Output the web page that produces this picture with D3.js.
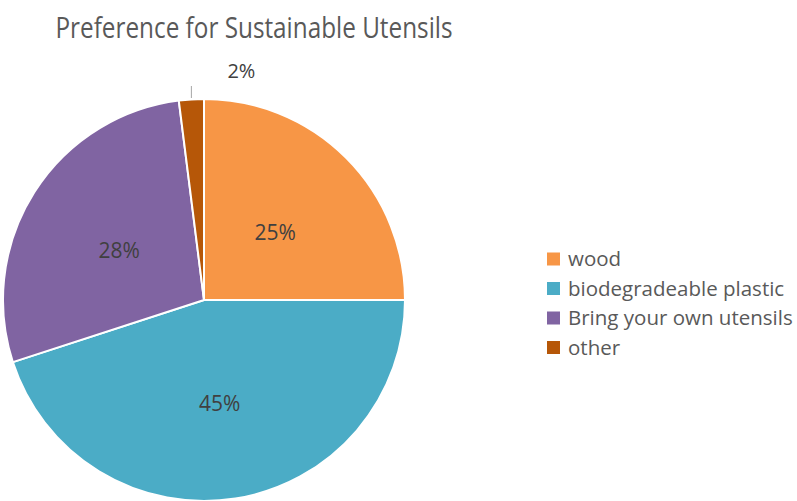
<!DOCTYPE html>
<html>
<head>
<meta charset="utf-8">
<script src="https://cdn.jsdelivr.net/npm/d3@7"></script>
<style>
  body { margin: 0; background: #fff; }
  text { font-family: "Open Sans", sans-serif; }
</style>
</head>
<body>
<div id="chart"></div>
<script>
const title = "Preference for Sustainable Utensils";
const categories = ["wood", "biodegradeable plastic", "Bring your own utensils", "other"];
const values = [25, 45, 28, 2];
const colors = ["#F79646", "#4BACC6", "#8064A2", "#B65708"];

const width = 797, height = 501;
const cx = 204, cy = 300, radius = 201;

const svg = d3.select("#chart").append("svg")
    .attr("width", width)
    .attr("height", height);

svg.append("text")
    .attr("x", 254)
    .attr("y", 38)
    .attr("text-anchor", "middle")
    .attr("fill", "#595959")
    .attr("font-family", "Lato, sans-serif")
    .attr("font-size", 29)
    .attr("textLength", 397)
    .attr("lengthAdjust", "spacingAndGlyphs")
    .text(title);

const data = categories.map((c, i) => ({name: c, value: values[i], color: colors[i]}));
const total = d3.sum(values);
const pct = d3.format(".0%");

const pie = d3.pie().value(d => d.value).sort(null);
const arcs = pie(data);
const arc = d3.arc().innerRadius(0).outerRadius(radius);
const labelArc = d3.arc().innerRadius(radius).outerRadius(radius);

const g = svg.append("g").attr("transform", `translate(${cx},${cy})`);

g.selectAll("path")
    .data(arcs)
    .join("path")
    .attr("d", arc)
    .attr("fill", d => d.data.color)
    .attr("stroke", "#fff")
    .attr("stroke-width", 2)
    .attr("stroke-linejoin", "round");

// inside labels
g.selectAll("text.inside")
    .data(arcs.filter(d => d.data.value / total >= 0.05))
    .join("text")
    .attr("class", "inside")
    .attr("transform", d => `translate(${labelArc.centroid(d).map(v => v / 2)})`)
    .attr("text-anchor", "middle")
    .attr("dy", "0.55em")
    .attr("fill", "#404040")
    .attr("font-size", 21)
    .text(d => pct(d.data.value / total));

// small slice: label outside with a short leader
arcs.filter(d => d.data.value / total < 0.05).forEach(d => {
    const a = (d.startAngle + d.endAngle) / 2;
    const x = Math.sin(a) * radius;
    g.append("line")
        .attr("x1", x).attr("x2", x)
        .attr("y1", -radius - 1).attr("y2", -radius - 13)
        .attr("stroke", "#a6a6a6")
        .attr("stroke-width", 1);
    g.append("text")
        .attr("x", x + 50)
        .attr("y", -radius - 21)
        .attr("text-anchor", "middle")
        .attr("fill", "#404040")
        .attr("font-size", 20)
        .text(pct(d.data.value / total));
});

// legend
const legend = svg.append("g").attr("transform", "translate(547,259)");
const item = legend.selectAll("g")
    .data(data)
    .join("g")
    .attr("transform", (d, i) => `translate(0,${i * 29.5})`);
item.append("rect")
    .attr("x", 0).attr("y", -6.5)
    .attr("width", 13).attr("height", 13)
    .attr("fill", d => d.color);
item.append("text")
    .attr("x", 21)
    .attr("dy", "0.36em")
    .attr("fill", "#595959")
    .attr("font-size", 20.5)
    .text(d => d.name);
</script>
</body>
</html>
